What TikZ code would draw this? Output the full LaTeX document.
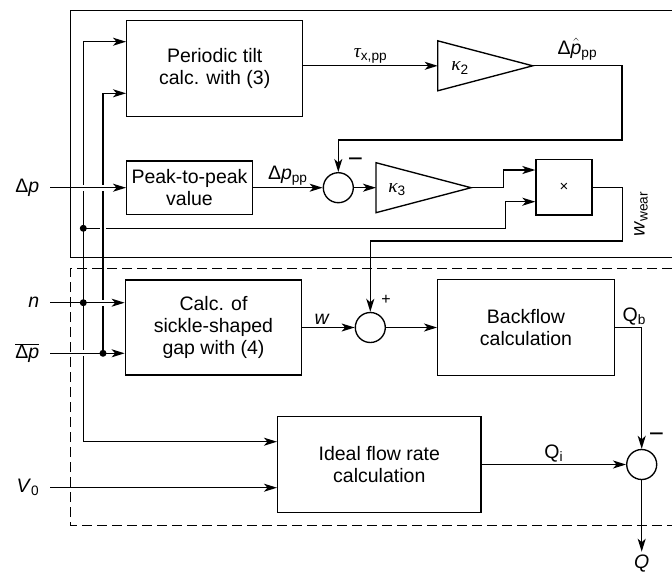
\documentclass[tikz,border=0pt]{standalone}
\usepackage{fontspec}
\setmainfont{Liberation Sans}
\newfontfamily\greekfont{Liberation Serif}
\usetikzlibrary{arrows.meta,positioning}

\begin{document}
\begin{tikzpicture}[x=1pt, y=-1pt, line width=1.35pt,
  font=\fontsize{19.5}{22}\selectfont,
  box/.style={draw, align=center, inner sep=0pt},
  sum/.style={draw, circle, minimum size=30pt, inner sep=0pt},
  lbl/.style={inner sep=2pt},
  arrow/.style={-{Stealth[length=13pt, width=8pt, inset=3.5pt]}},
  gap/.style={preaction={draw=white, line width=6pt, -, shorten >=15pt}}
]
\useasboundingbox (0,0) rectangle (672,574);

\node[box, minimum width=176pt, minimum height=96pt] (tilt) at (214.7,68.8) {Periodic tilt\\calc. with (3)};
\node[box, minimum width=125.6pt, minimum height=53.3pt] (peak) at (189.5,187.7) {Peak-to-peak\\value};
\node[box, minimum width=56pt, minimum height=55.7pt, font=\fontsize{15}{15}\selectfont] (mult) at (564,187.2) {×};
\node[box, minimum width=176.4pt, minimum height=95pt] (calc) at (213.5,327.5) {Calc. of\\sickle-shaped\\gap with (4)};
\node[box, minimum width=176.6pt, minimum height=95.7pt] (back) at (526,327.5) {Backflow\\calculation};
\node[box, minimum width=203.3pt, minimum height=95.6pt] (ideal) at (379.3,464.5) {Ideal flow rate\\calculation};

\node[sum] (sum1) at (338.3,187.7) {};
\node[sum] (sum2) at (370.3,327.5) {};
\node[sum] (sum3) at (641.7,464.5) {};

\coordinate (k2in) at (437.7,65.8);
\coordinate (k2out) at (532.7,65.8);
\draw (k2in) -- ++(0,-25) -- (k2out) -- ++(-95,25) -- cycle;
\node (k2) at (460,68) {{\greekfont\itshape κ}\textsubscript{2}};
\coordinate (k3in) at (376,187.7);
\coordinate (k3out) at (471,187.7);
\draw (k3in) -- ++(0,-25) -- (k3out) -- ++(-95,25) -- cycle;
\node (k3) at (397,190) {{\greekfont\itshape κ}\textsubscript{3}};

\coordinate (jw) at (83.3,228.3);
\coordinate (jn) at (83.3,302.7);
\coordinate (jq) at (103,353.3);
\coordinate (dpin) at (50,187.7);
\coordinate (nin) at (50,302.7);
\coordinate (qin) at (50,353.3);
\coordinate (vin) at (50,487.7);

\node[lbl, left=8pt of dpin] (dplbl) {Δ\textit{p}};
\node[lbl, left=8pt of nin] (nlbl) {\textit{n}};
\node[lbl, left=8pt of qin] (qlbl) {$\overline{\hbox{Δ\textit{p}}}$};
\node[lbl, left=8pt of vin] (vlbl) {\textit{V}\textsubscript{0}};

\draw[arrow] (jw) -| ([xshift=-30pt, yshift=-14.5pt]mult.west) -- ([yshift=-14.5pt]mult.west);
\draw[arrow] (jn) |- ([yshift=27.1pt]tilt.west);
\draw[arrow] (jn) |- ([yshift=22.8pt]ideal.west);
\draw[arrow, gap] (jq) |- ([yshift=-24.5pt]tilt.west);

\draw[arrow, gap] (dpin) -- (dpin -| peak.west);
\draw[arrow, gap] (nin) -- (nin -| calc.west);
\draw[arrow, gap] (qin) -- (qin -| calc.west);
\draw[arrow] (vin) -- (vin -| ideal.west);

\draw[arrow] ([yshift=3pt]tilt.east) -- node[lbl, above] (taulbl) {{\greekfont\itshape τ}\textsubscript{x,pp}} (k2in);
\draw[arrow] (k2out) -- node[lbl, above=3pt] (phatlbl) {Δ$\hat{\hbox{\textit{p}}}$\textsubscript{pp}} ++(89.3,0) -- ++(0,74.2) -| (sum1.north);
\draw[arrow] (peak.east) -- node[lbl, above] (dpplbl) {Δ\textit{p}\textsubscript{pp}} (sum1.west);
\draw[arrow] (sum1.east) -- (k3in);
\draw[arrow] (k3out) -- ++(32.3,0) |- ([yshift=17.2pt]mult.west);
\draw[arrow] (mult.east) -- ++(30,0) -- ++(0,53.8) -| (sum2.north);
\node[lbl, rotate=90] (wwlbl) at (641,214) {\textit{w}\textsubscript{wear}};
\draw[arrow] (calc.east) -- node[lbl, above, pos=0.38] (wlbl) {\textit{w}} (sum2.west);
\draw[arrow] (sum2.east) -- (back.west);
\draw[arrow] (back.east) -| node[lbl, above, pos=0.36] (qblbl) {Q\textsubscript{b}} (sum3.north);
\draw[arrow] (ideal.east) -- node[lbl, above] (qilbl) {Q\textsubscript{i}} (sum3.west);
\coordinate (qout) at (641.7,551.7);
\draw[arrow] (sum3.south) -- (qout);
\node[lbl, below=0pt of qout] (qlbl2) {\textit{Q}};

\node[lbl, font=\fontsize{26}{26}\selectfont] (minus1) at (355.5,163) {−};
\node[lbl, font=\fontsize{16}{16}\selectfont] (plus) at (386,300) {+};
\node[lbl, font=\fontsize{26}{26}\selectfont] (minus3) at (656.5,438) {−};

\draw (672,10.7) -| (70.7,257.7) -- (672,257.7);
\draw[dash pattern=on 10pt off 5pt] (672,268.3) -| (70.7,525.7) -- (672,525.7);

\fill (jw) circle (3.5);
\fill (jn) circle (3.5);
\fill (jq) circle (3.5);
\end{tikzpicture}
\end{document}
